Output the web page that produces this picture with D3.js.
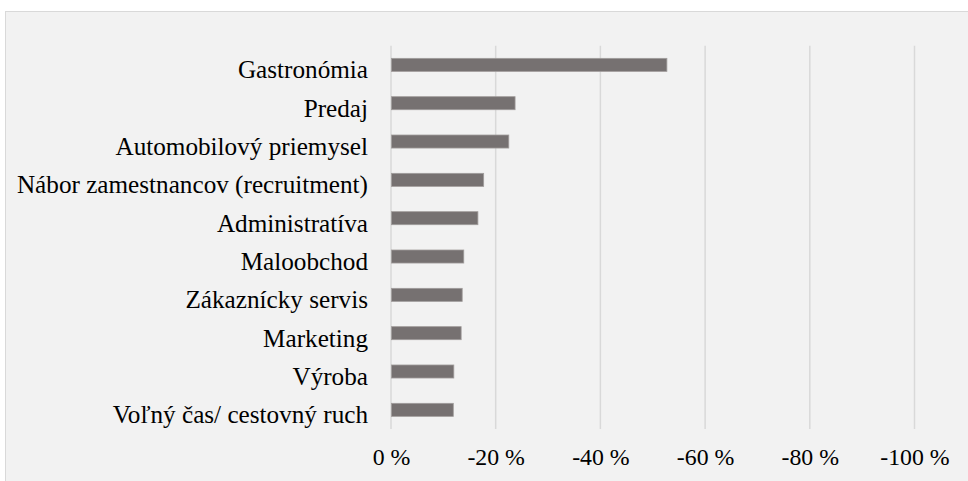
<!DOCTYPE html>
<html>
<head>
<meta charset="utf-8">
<script src="https://cdn.jsdelivr.net/npm/d3@7"></script>
<style>
html,body{margin:0;padding:0;background:#fff;}
svg{display:block;}
</style>
</head>
<body>
<svg id="chart" width="968" height="481"></svg>
<script>
const categories = ["Gastronómia","Predaj","Automobilový priemysel","Nábor zamestnancov (recruitment)","Administratíva","Maloobchod","Zákaznícky servis","Marketing","Výroba","Voľný čas/ cestovný ruch"];
const values = [-52.7,-23.7,-22.5,-17.7,-16.6,-13.9,-13.6,-13.4,-12.0,-11.9];
const tickValues = [0,-20,-40,-60,-80,-100];
const tickLabels = ["0 %","-20 %","-40 %","-60 %","-80 %","-100 %"];

const FONT = '"Liberation Serif"';
const svg = d3.select("#chart");

svg.append("rect").attr("x",5.5).attr("y",11.5).attr("width",980).attr("height",500)
  .attr("fill","#f2f2f2").attr("stroke","#d9d9d9").attr("stroke-width",1);

const x = d3.scaleLinear().domain([0,-100]).range([391,914.5]);
const y = d3.scaleBand().domain(categories).range([45.7,429]).paddingInner(0.66).paddingOuter(0.33);

svg.append("g").selectAll("line").data(tickValues).join("line")
  .attr("x1",d=>x(d)).attr("x2",d=>x(d)).attr("y1",45.7).attr("y2",429)
  .attr("stroke","#d9d9d9").attr("stroke-width",1.5);

svg.append("g").selectAll("rect").data(values).join("rect")
  .attr("x",x(0)+0.5).attr("y",(d,i)=>y(categories[i]))
  .attr("width",d=>x(d)-x(0)-0.5).attr("height",y.bandwidth())
  .attr("fill","#767171").attr("stroke","#a09c9b").attr("stroke-width",0.8);

svg.append("g").selectAll("text").data(categories).join("text")
  .attr("x",368).attr("y",d=>y(d)+y.bandwidth()/2+13.5)
  .attr("text-anchor","end").style("font-family",FONT).style("font-size","25.2px").attr("fill","#000")
  .text(d=>d);

const ax = d3.axisBottom(x).tickValues(tickValues).tickFormat((d,i)=>tickLabels[i]).tickSize(0).tickPadding(0);
const g = svg.append("g").attr("transform","translate(0,448)").call(ax);
g.select(".domain").remove();
g.selectAll("text").style("font-family",FONT).style("font-size","23.8px").attr("fill","#000").attr("dy","0.71em");
</script>
</body>
</html>
